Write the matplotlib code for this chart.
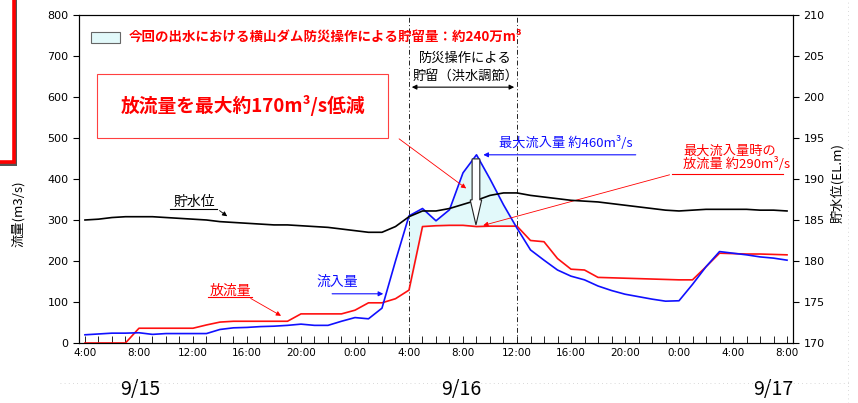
import numpy as np
import matplotlib.pyplot as plt
from matplotlib.patches import Rectangle, FancyArrow

plt.rcParams['font.family'] = ['Noto Sans CJK JP', 'DejaVu Sans']

# hours counted from 9/15 4:00, one value per hour
hours = np.arange(53)

# inflow (m3/s)
inflow = [20, 22, 24, 24, 25, 21, 23, 23, 23, 23,
          33, 37, 38, 40, 41, 43, 46, 43, 43, 53,
          62, 59, 85, 200, 310, 328, 298, 325, 415, 459,
          400, 337, 280, 227, 202, 178, 163, 154, 139, 128,
          119, 113, 107, 102, 103, 143, 186, 223, 219, 215,
          210, 207, 202]

# outflow (m3/s)
outflow = [0, 0, 0, 0, 36, 36, 36, 36, 36, 44,
           51, 53, 53, 53, 53, 53, 71, 71, 71, 71,
           80, 98, 98, 108, 129, 284, 286, 287, 287, 284,
           285, 285, 285, 250, 247, 206, 180, 178, 160, 159,
           158, 157, 156, 155, 154, 154, 186, 219, 218, 217,
           217, 216, 215]

# reservoir level (EL.m)
level = [185.0, 185.1, 185.3, 185.4, 185.4, 185.4, 185.3, 185.2, 185.1, 185.0,
         184.8, 184.7, 184.6, 184.5, 184.4, 184.4, 184.3, 184.2, 184.1, 183.9,
         183.7, 183.5, 183.5, 184.2, 185.4, 186.1, 186.1, 186.4, 186.9, 187.4,
         188.0, 188.3, 188.3, 188.0, 187.8, 187.6, 187.4, 187.3, 187.2, 187.0,
         186.8, 186.6, 186.4, 186.2, 186.1, 186.2, 186.3, 186.3, 186.3, 186.3,
         186.2, 186.2, 186.1]

tick_labels = ['4:00', '8:00', '12:00', '16:00', '20:00', '0:00', '4:00',
               '8:00', '12:00', '16:00', '20:00', '0:00', '4:00', '8:00']
dates = ['9/15', '9/16', '9/17']
date_hours = [4.1, 27.9, 51.0]

fig = plt.figure(figsize=(8.58, 4.03), dpi=100)
ax = fig.add_axes([0.0921, 0.1489, 0.8321, 0.8139])
ax2 = ax.twinx()

# storage area between inflow and outflow (4:00 - 12:00 on 9/16)
ax.fill_between(hours[24:33], inflow[24:33], outflow[24:33],
                color='#e2f9fa', zorder=1)
ax.plot(hours, outflow, color='#ff1010', lw=1.2, zorder=3)
ax.plot(hours, inflow, color='#1010ff', lw=1.2, zorder=3)
ax2.plot(hours, level, color='black', lw=1.2)

ax.set_xlim(-0.44, 52.44)
ax.set_ylim(0, 800)
ax2.set_ylim(170, 210)
ax.set_yticks(range(0, 801, 100))
ax2.set_yticks(range(170, 211, 5))
ax.set_xticks(range(0, 53, 4))
ax.set_xticks(range(0, 53), minor=True)
ax.set_xticklabels(tick_labels, family='DejaVu Sans', fontsize=7.5)
ax.tick_params(axis='x', which='both', direction='in', length=5, width=0.6)
ax.tick_params(axis='y', direction='out', length=4, width=0.8, labelsize=8)
ax2.tick_params(axis='y', direction='out', length=4, width=0.8, labelsize=8)
for t in ax.get_yticklabels() + ax2.get_yticklabels():
    t.set_family('DejaVu Sans')

# flood control period
for h in [24, 32]:
    ax.axvline(h, color='#222222', lw=0.7, ls=(0, (5, 2.5, 1, 2.5)), zorder=2)

# legend-like patch and title
ax.add_patch(Rectangle((0.0164, 0.9155), 0.041, 0.0335, transform=ax.transAxes,
                       facecolor='#e2f9fa', edgecolor='#666666', lw=0.8))
ax.text(0.070, 0.934, '今回の出水における横山ダム防災操作による貯留量：約240万m³',
        transform=ax.transAxes, color='red', fontsize=9.7, fontweight='bold',
        va='center')

# main message box
ax.add_patch(Rectangle((0.0252, 0.625), 0.4076, 0.195, transform=ax.transAxes,
                       facecolor='white', edgecolor='#ff4040', lw=0.8, zorder=4))
ax.text(0.2297, 0.7226, '放流量を最大約170m³/s低減', transform=ax.transAxes,
        color='red', fontsize=13.5, fontweight='bold', ha='center', va='center',
        zorder=5)
ax.annotate('', xy=(28.4, 373), xytext=(23.1, 502),
            arrowprops=dict(arrowstyle='-|>', color='red', lw=0.6,
                            mutation_scale=7))

# storage label
ax.text(28.2, 693, '防災操作による', ha='center', va='center', fontsize=9.5)
ax.text(28.2, 650, '貯留（洪水調節）', ha='center', va='center', fontsize=9.5)
ax.annotate('', xy=(24, 624), xytext=(32, 624),
            arrowprops=dict(arrowstyle='<|-|>', color='black', lw=0.8,
                            mutation_scale=7))

# peak inflow
ax.text(30.7, 488, '最大流入量 約460m³/s', color='#1010ff', fontsize=9.5,
        va='center')
ax.annotate('', xy=(29.3, 459), xytext=(41.0, 459),
            arrowprops=dict(arrowstyle='-|>', color='#1010ff', lw=0.8,
                            mutation_scale=7))

# outflow at peak inflow
ax.text(44.3, 468, '最大流入量時の', color='red', fontsize=9.5, va='center')
ax.text(44.3, 436, '放流量 約290m³/s', color='red', fontsize=9.5, va='center')
ax.plot([43.5, 51.7], [412, 412], color='red', lw=0.8)
ax.annotate('', xy=(29.3, 285), xytext=(43.5, 412),
            arrowprops=dict(arrowstyle='-|>', color='red', lw=0.6,
                            mutation_scale=7))

# white block arrow showing the reduction (on ax2 so it covers the level line)
ax2.add_patch(FancyArrow(28.96, 449, 0, -161, width=0.57, head_width=0.85,
                         head_length=61, length_includes_head=True,
                         transform=ax.transData, facecolor='white',
                         edgecolor='#222222', lw=0.8, zorder=6))

# series labels
ax.text(8.1, 343, '貯水位', fontsize=10, ha='center', va='center')
ax.plot([6.3, 9.8], [327, 327], color='black', lw=0.8)
ax.annotate('', xy=(10.7, 305), xytext=(9.8, 327),
            arrowprops=dict(arrowstyle='-|>', color='black', lw=0.6,
                            mutation_scale=7))
ax.text(10.8, 127, '放流量', fontsize=10, color='red', ha='center', va='center')
ax.plot([9.1, 12.4], [112, 112], color='red', lw=0.8)
ax.annotate('', xy=(14.7, 63), xytext=(12.1, 112),
            arrowprops=dict(arrowstyle='-|>', color='red', lw=0.6,
                            mutation_scale=7))
ax.text(18.7, 148, '流入量', fontsize=10, color='#1010ff', ha='center',
        va='center')
ax.annotate('', xy=(22.3, 120), xytext=(18.1, 120),
            arrowprops=dict(arrowstyle='-|>', color='#1010ff', lw=0.8,
                            mutation_scale=7))

# dates under the axis
for d, h in zip(dates, date_hours):
    ax.text(h, -0.143, d, transform=ax.get_xaxis_transform(), fontsize=14,
            ha='center', va='center')

# faint dotted guide lines
fig.add_artist(plt.Line2D([0.07, 0.99], [0.05, 0.05], color='#cccccc', lw=0.6,
                          ls=(0, (1, 4)), transform=fig.transFigure))
fig.add_artist(plt.Line2D([0.988, 0.988], [0.0, 1.0], color='#cccccc', lw=0.6,
                          ls=(0, (1, 4)), transform=fig.transFigure))

# axis labels
fig.text(18 / 858, 1 - 247 / 403, '流量(m3/s)', rotation=90, ha='center',
         va='bottom', fontsize=9.5)
fig.text(837 / 858, 1 - 183 / 403, '貯水位(EL.m)', rotation=90, ha='center',
         va='center', fontsize=9.5)

# cut-off box from the page at the left edge
fig.add_artist(Rectangle((-0.05, 1 - 165.5 / 403), 0.05 + 16.5 / 858, 0.6,
                         transform=fig.transFigure, facecolor='#555555',
                         edgecolor='none'))
fig.add_artist(Rectangle((-0.05, 1 - 162 / 403), 0.05 + 14.3 / 858, 0.6,
                         transform=fig.transFigure, facecolor='white',
                         edgecolor='#ff0000', lw=2.6))

fig.savefig('out.png', dpi=100)
